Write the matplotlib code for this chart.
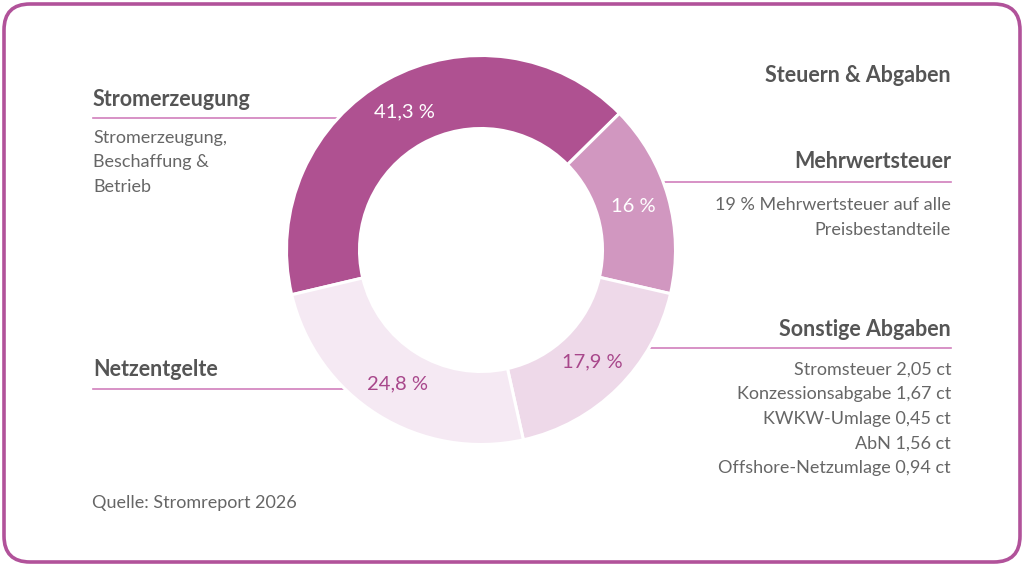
import numpy as np
import matplotlib.pyplot as plt
from matplotlib.patches import FancyBboxPatch

plt.rcParams['font.family'] = ['Lato', 'DejaVu Sans']

# data
shares = [41.3, 16.0, 17.9, 24.8]
share_labels = ["41,3 %", "16 %", "17,9 %", "24,8 %"]
colors = ["#AF5191", "#D197C0", "#EED9E9", "#F5E9F3"]
label_colors = ["white", "white", "#A8478B", "#A8478B"]

sonstige_items = ["Stromsteuer 2,05 ct", "Konzessionsabgabe 1,67 ct", "KWKW-Umlage 0,45 ct",
                  "AbN 1,56 ct", "Offshore-Netzumlage 0,94 ct"]

W, H = 1024, 566
fig = plt.figure(figsize=(W / 100, H / 100), dpi=100)
ax = fig.add_axes([0, 0, 1, 1])

cx, cy = 481, H - 250  # donut centre (pixel coords, y up)
R, r_in = 194.5, 121.5

wedges, _ = ax.pie(shares, colors=colors, startangle=193.3, counterclock=False,
                   center=(cx, cy), radius=R,
                   wedgeprops=dict(width=R - r_in, edgecolor="white", linewidth=2.2))
for w in wedges:
    w.set_zorder(3)

# percentage labels in the middle of each ring segment
r_mid = (R + r_in) / 2
for w, txt, c in zip(wedges, share_labels, label_colors):
    ang = np.deg2rad((w.theta1 + w.theta2) / 2)
    ax.text(cx + r_mid * np.cos(ang), cy + r_mid * np.sin(ang), txt, color=c,
            fontsize=14.5, ha="center", va="center", zorder=4)

ax.set_xlim(0, W)
ax.set_ylim(0, H)
ax.set_aspect("auto")
ax.axis("off")

line_col = "#D17FBC"
head_col = "#555555"
body_col = "#666666"
fs_head, fs_body = 15.5, 13

def edge_x(ypix, side):
    dy = (H - ypix) - cy
    return cx + side * np.sqrt(max(R ** 2 - dy ** 2, 0))

# left side
ax.plot([93, edge_x(118, -1)], [H - 118, H - 118], color=line_col, lw=1.2, zorder=1)
ax.text(93, H - 99, "Stromerzeugung", fontsize=fs_head, fontweight="bold", color=head_col, va="center")
for i, t in enumerate(["Stromerzeugung,", "Beschaffung &", "Betrieb"]):
    ax.text(93, H - (138 + 24.5 * i), t, fontsize=fs_body, color=body_col, va="center")

ax.plot([93, edge_x(389, -1)], [H - 389, H - 389], color=line_col, lw=1.2, zorder=1)
ax.text(93, H - 369, "Netzentgelte", fontsize=fs_head, fontweight="bold", color=head_col, va="center")

ax.text(92, H - 503, "Quelle: Stromreport 2026", fontsize=fs_body, color=body_col, va="center")

# right side
xr = 951
ax.text(xr, H - 75, "Steuern & Abgaben", fontsize=fs_head, fontweight="bold", color=head_col,
        va="center", ha="right")

ax.plot([edge_x(182, 1), xr], [H - 182, H - 182], color=line_col, lw=1.2, zorder=1)
ax.text(xr, H - 162, "Mehrwertsteuer", fontsize=fs_head, fontweight="bold", color=head_col,
        va="center", ha="right")
ax.text(xr, H - 205, "19 % Mehrwertsteuer auf alle", fontsize=fs_body, color=body_col, va="center", ha="right")
ax.text(xr, H - 230, "Preisbestandteile", fontsize=fs_body, color=body_col, va="center", ha="right")

ax.plot([edge_x(348, 1), xr], [H - 348, H - 348], color=line_col, lw=1.2, zorder=1)
ax.text(xr, H - 329, "Sonstige Abgaben", fontsize=fs_head, fontweight="bold", color=head_col,
        va="center", ha="right")
for i, t in enumerate(sonstige_items):
    ax.text(xr, H - (370 + 24.5 * i), t, fontsize=fs_body, color=body_col, va="center", ha="right")

# rounded frame
frame = FancyBboxPatch((4, 4), W - 8, H - 8, boxstyle="round,pad=0,rounding_size=26",
                       fill=False, edgecolor="#B1529A", lw=2.6, zorder=5)
ax.add_patch(frame)

fig.savefig("out.png", dpi=100, facecolor="white")
